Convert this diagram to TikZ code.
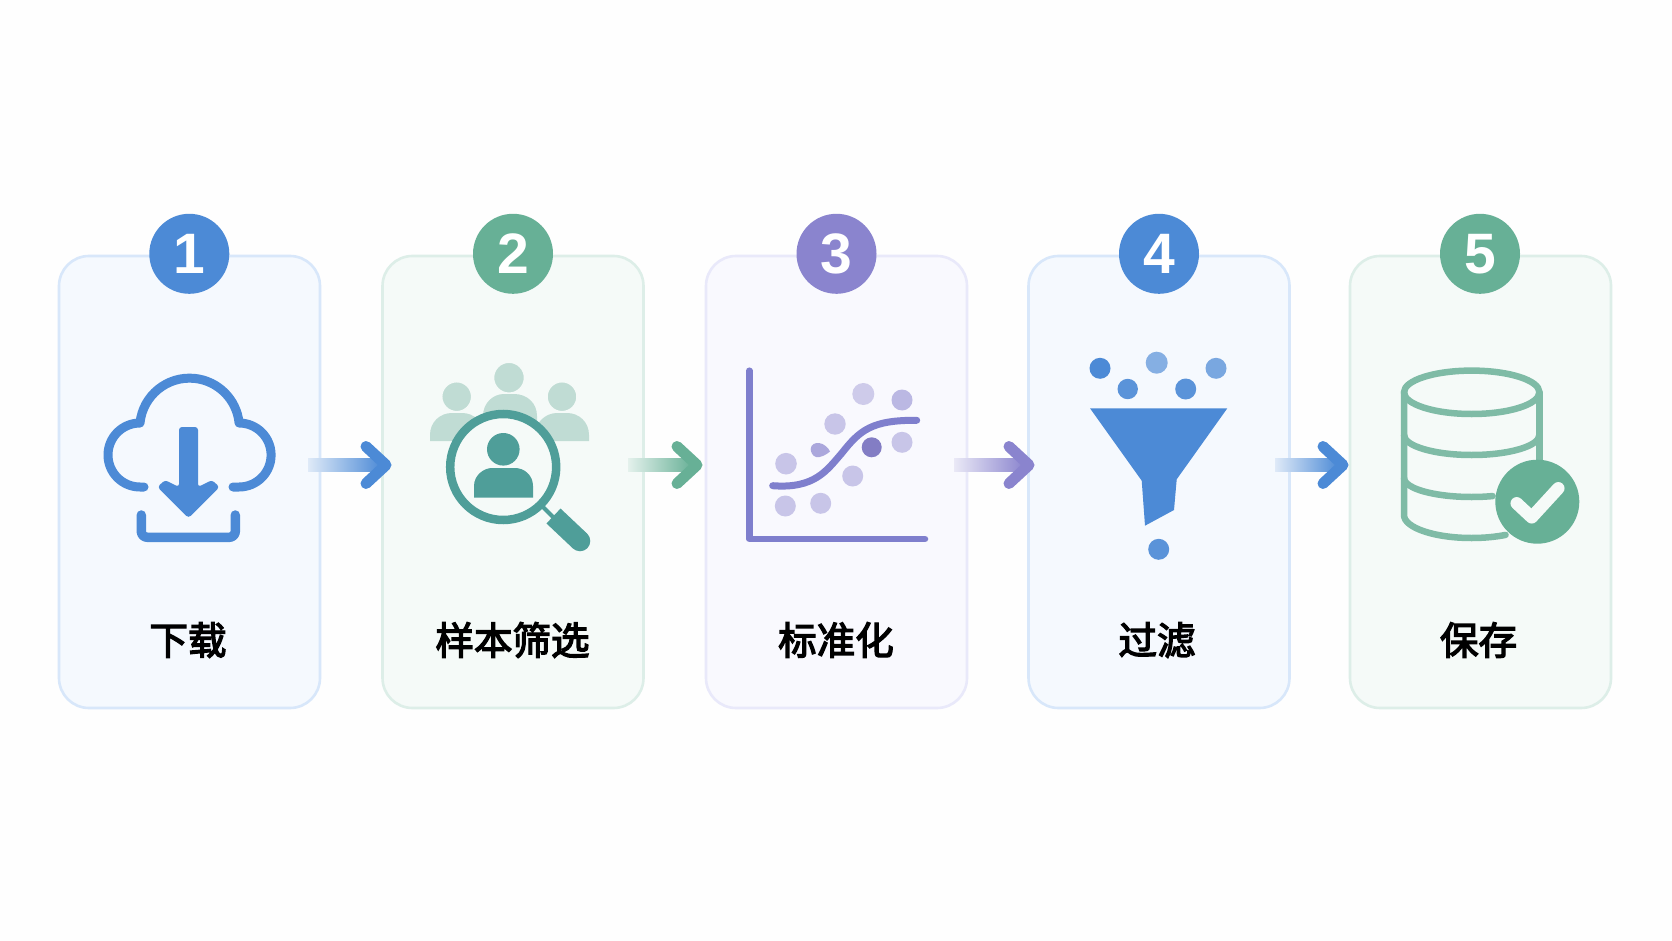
\documentclass[tikz,border=0pt]{standalone}
\usepackage{fontspec}
\usetikzlibrary{calc}
\newfontfamily\cjkfont[FakeBold=3.5]{Noto Sans CJK SC}
\newfontfamily\numfont{Liberation Sans}
\definecolor{pageBg}{HTML}{FEFEFE}
\definecolor{blueC}{HTML}{4C8AD6}
\definecolor{greenC}{HTML}{67B096}
\definecolor{purpleC}{HTML}{8A84CE}
\definecolor{tealC}{HTML}{4F9E99}
\definecolor{blueFill}{HTML}{F5F9FE}
\definecolor{blueLine}{HTML}{D8E7FA}
\definecolor{greenFill}{HTML}{F5FAF8}
\definecolor{greenLine}{HTML}{DDEEE8}
\definecolor{purpleFill}{HTML}{F9F9FE}
\definecolor{purpleLine}{HTML}{E9E9FA}
\definecolor{peopleC}{HTML}{C0DCD4}
\definecolor{axisC}{HTML}{7F7FCD}
\definecolor{dbC}{HTML}{7FBBA6}
\tikzset{
  card/.style={draw=#1Line,fill=#1Fill,line width=2.6pt,rounded corners=30pt,
    minimum width=261pt,minimum height=452pt,inner sep=0pt},
  badge/.style={circle,fill=#1C,minimum size=80pt,inner sep=0pt,text=white,
    font=\numfont\bfseries\fontsize{57}{60}\selectfont},
  steplabel/.style={text=black,inner sep=0pt,font=\cjkfont\fontsize{38.5}{42}\selectfont},
  headstroke/.style={draw=#1,line width=11pt,line cap=round,line join=round},
}
\newcommand{\flowarrow}[3]{%
  \shade[left color=#3!18,middle color=#3!78,right color=#3]
    ($(#1)+(0,-6.5)$) rectangle ($(#2)+(-10,6.5)$);
  \draw[headstroke=#3] ($(#2)+(-26,-18.5)$) -- ($(#2)+(-6,0)$) -- ($(#2)+(-26,18.5)$);
}
\begin{document}
\begin{tikzpicture}[x=1pt,y=1pt,yscale=-1]
\useasboundingbox (0,0) rectangle (1672,941);
\fill[pageBg] (0,0) rectangle (1672,941);

% cards
\node[card=blue]   (card1) at (189.5,482) {};
\node[card=green]  (card2) at (513,482) {};
\node[card=purple] (card3) at (836.5,482) {};
\node[card=blue]   (card4) at (1159,482) {};
\node[card=green]  (card5) at (1480.5,482) {};

% badges
\node[badge=blue]   (badge1) at (189.3,253.8) {1};
\node[badge=green]  (badge2) at (513,253.8) {2};
\node[badge=purple] (badge3) at (836.5,253.8) {3};
\node[badge=blue]   (badge4) at (1159,253.8) {4};
\node[badge=green]  (badge5) at (1480,253.8) {5};

% labels
\node[steplabel] (label1) at (188,640) {下载};
\node[steplabel] (label2) at (512.5,640) {样本筛选};
\node[steplabel] (label3) at (836,640) {标准化};
\node[steplabel] (label4) at (1157,640) {过滤};
\node[steplabel] (label5) at (1478.5,640) {保存};

% connectors
\coordinate (a1s) at (308,465); \coordinate (a1t) at (392,465);
\coordinate (a2s) at (628,465); \coordinate (a2t) at (703,465);
\coordinate (a3s) at (954,465); \coordinate (a3t) at (1035,465);
\coordinate (a4s) at (1275,465); \coordinate (a4t) at (1349,465);
\flowarrow{a1s}{a1t}{blueC}
\flowarrow{a2s}{a2t}{greenC}
\flowarrow{a3s}{a3t}{purpleC}
\flowarrow{a4s}{a4t}{blueC}

% icon 1: cloud download
\draw[blueC,line width=9pt,line cap=round,line join=round]
  (144,487) -- (140,487) arc[start angle=90,end angle=270,radius=32]
  arc[start angle=185.7,end angle=354.3,radius=49.8]
  arc[start angle=270,end angle=450,radius=32] -- (233,487);
\fill[blueC,rounded corners=3pt] (179,427) -- (198,427) -- (198,487) -- (212,480)
  -- (219.5,487) -- (188.5,518) -- (157.5,487) -- (165,480) -- (179,487) -- cycle;
\draw[blueC,line width=9.5pt,line cap=round,line join=round,rounded corners=6pt]
  (141.3,515) -- (141.3,537.3) -- (235.3,537.3) -- (235.3,515);

% icon 2: people and magnifier
\fill[peopleC] (430,441) -- (430,435) .. controls (430,422) and (440,413) .. (452,413)
  -- (462,413) .. controls (474,413) and (484,422) .. (484,435) -- (484,441) -- cycle;
\fill[peopleC] (535,441) -- (535,435) .. controls (535,422) and (546,413) .. (557,413)
  -- (567,413) .. controls (579,413) and (589,422) .. (589,435) -- (589,441) -- cycle;
\fill[peopleC] (483,445) -- (483,416) .. controls (483,403) and (493,394) .. (504,394)
  -- (514,394) .. controls (527,394) and (537,403) .. (537,416) -- (537,445) -- cycle;
\fill[peopleC,draw=greenFill,line width=1.5pt] (456.7,396.7) circle[radius=15];
\fill[peopleC,draw=greenFill,line width=1.5pt] (562,396.7) circle[radius=15];
\fill[peopleC,draw=greenFill,line width=1.5pt] (509,377.7) circle[radius=15.5];
\draw[tealC,line width=4pt] (543,507) -- (557,521);
\draw[tealC,line width=20.5pt] (553.5,516) -- (580,541);
\fill[tealC] (580,541) circle[radius=10.25];
\draw[tealC,line width=8.5pt,fill=greenFill] (503.2,467) circle[radius=53];
\fill[tealC] (503.3,449.3) circle[radius=16.3];
\fill[tealC] (474,497.5) -- (474,486) .. controls (474,475) and (484,468) .. (492,468)
  -- (515,468) .. controls (524,468) and (533,475) .. (533,486) -- (533,497.5) -- cycle;

% icon 3: scatter chart
\fill[purpleC!42!white] (863.3,394) circle[radius=11];
\fill[purpleC!58!white] (902,400) circle[radius=10.5];
\fill[purpleC!47!white] (835,424) circle[radius=10.7];
\fill[purpleC!47!white] (902,442.3) circle[radius=10.5];
\fill[purpleC!47!white] (786,463.7) circle[radius=10.8];
\fill[purpleC!47!white] (852.7,476) circle[radius=10.5];
\fill[purpleC!47!white] (785.3,506) circle[radius=10.5];
\fill[purpleC!47!white] (820.7,503.3) circle[radius=10.5];
\fill[purpleC!72!white] (810.7,449) .. controls (810.7,444) and (816,442.5) .. (819,443)
  .. controls (824,443.5) and (828.5,448) .. (830,451.5) .. controls (826,455) and (820,458) .. (816,457)
  .. controls (812.5,456) and (810.7,452) .. (810.7,449) -- cycle;
\draw[axisC,line width=6.5pt,line cap=round,line join=round] (749.3,370.7) -- (749.3,539) -- (925,539);
\draw[axisC,line width=7pt,line cap=round] (772.7,485.7) .. controls (815,489) and (827,470) .. (841.7,453.3)
  .. controls (860,430) and (872,420) .. (916.7,420.3);
\fill[purpleC!95!black] (871.7,447.3) circle[radius=10];

% icon 4: funnel
\fill[blueC] (1100,368.3) circle[radius=10.5];
\fill[blueC!68!white] (1156.7,362.7) circle[radius=11];
\fill[blueC!75!white] (1216,368.3) circle[radius=10.5];
\fill[blueC!92!white] (1127.7,389) circle[radius=10.2];
\fill[blueC!92!white] (1185.7,389) circle[radius=10.5];
\fill[blueC!92!white] (1158.7,549.3) circle[radius=10.5];
\fill[blueC] (1090,408.3) -- (1227.3,408.3) -- (1176.7,479.3) -- (1174,510)
  -- (1145,525.7) -- (1141.7,480.7) -- cycle;

% icon 5: database with check
\begin{scope}[dbC,line width=6.5pt,line cap=round,line join=round]
  \draw (1471.7,392.3) ellipse[x radius=67.7,y radius=21.7];
  \draw (1404,392.3) -- (1404,515) arc[start angle=180,end angle=60,x radius=67.7,y radius=23];
  \draw (1539.3,392.3) -- (1539.3,470);
  \draw (1404,435) arc[start angle=180,end angle=0,x radius=67.7,y radius=20];
  \draw (1404,478) arc[start angle=180,end angle=72,x radius=67.7,y radius=19];
\end{scope}
\fill[greenC] (1537.3,501.7) circle[radius=42];
\draw[greenFill,line width=12.5pt,line cap=round,line join=round]
  (1516.7,503.3) -- (1531.7,517.3) -- (1558.3,488.3);
\end{tikzpicture}
\end{document}
